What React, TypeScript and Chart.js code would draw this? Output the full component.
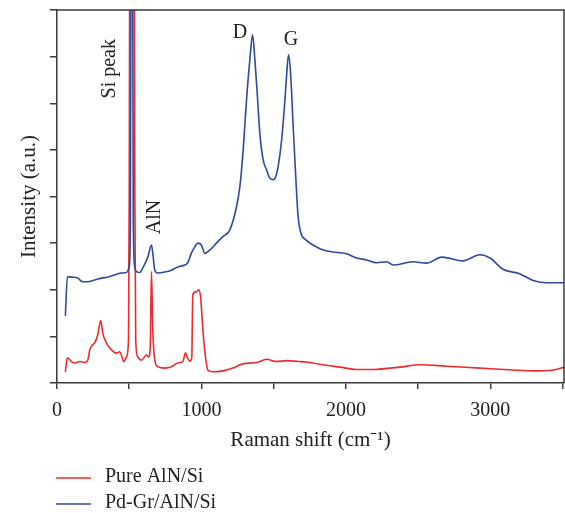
import React, { useEffect, useRef } from 'react';
import { Chart, registerables } from 'chart.js';

Chart.register(...registerables);

const FONT = '"Liberation Serif", "Times New Roman", serif';

const seriesLabels = ['Pure AlN/Si', 'Pd-Gr/AlN/Si'];
const seriesColors = ['#ee2a2d', '#2d4a9c'];

const redX = [58, 72, 100, 123, 157, 192, 213, 227, 247, 261, 282, 303, 317, 342, 377, 412, 434, 446, 462, 481, 495, 500, 507, 531, 539, 545, 559, 585, 619, 635, 646, 654, 663, 677, 698, 746, 793, 836, 871, 890, 903, 919, 933, 940, 966, 982, 994, 1010, 1028, 1044, 1079, 1148, 1217, 1286, 1383, 1451, 1520, 1589, 1682, 1772, 1841, 1959, 2074, 2187, 2305, 2374, 2513, 2698, 2928, 3157, 3296, 3435, 3510];
const redY = [0.24, 0.54, 0.46, 0.43, 0.46, 0.44, 0.49, 0.71, 0.82, 0.86, 1.03, 1.34, 1.07, 0.86, 0.71, 0.64, 0.67, 0.6, 0.46, 0.56, 0.92, 4, 14, 14, 4, 0.92, 0.56, 0.49, 0.6, 0.56, 0.82, 2.39, 1.14, 0.49, 0.35, 0.32, 0.35, 0.43, 0.46, 0.65, 0.54, 0.47, 0.54, 1.89, 1.96, 2.0, 1.85, 1.14, 0.56, 0.28, 0.24, 0.26, 0.32, 0.41, 0.44, 0.51, 0.46, 0.48, 0.46, 0.43, 0.39, 0.34, 0.29, 0.29, 0.32, 0.34, 0.39, 0.36, 0.32, 0.28, 0.26, 0.28, 0.34];

const blueX = [58, 72, 100, 143, 178, 213, 261, 308, 351, 400, 446, 481, 500, 508, 514, 518, 522, 528, 538, 550, 573, 594, 629, 654, 663, 677, 698, 746, 793, 836, 885, 906, 931, 954, 975, 1000, 1023, 1058, 1104, 1148, 1196, 1243, 1266, 1289, 1312, 1335, 1354, 1370, 1386, 1404, 1427, 1451, 1474, 1497, 1515, 1531, 1555, 1578, 1594, 1603, 1617, 1635, 1654, 1668, 1688, 1723, 1751, 1797, 1820, 1889, 2005, 2074, 2144, 2213, 2282, 2326, 2464, 2559, 2663, 2811, 2928, 2998, 3088, 3206, 3296, 3391, 3510];
const blueY = [1.44, 2.28, 2.27, 2.25, 2.17, 2.17, 2.21, 2.25, 2.27, 2.32, 2.36, 2.37, 2.49, 3.5, 12, 16, 12, 3.5, 2.49, 2.39, 2.37, 2.47, 2.7, 2.96, 2.79, 2.42, 2.36, 2.38, 2.42, 2.49, 2.53, 2.58, 2.79, 2.92, 3.0, 2.96, 2.78, 2.85, 3.0, 3.14, 3.28, 3.78, 4.21, 5.0, 6.07, 6.93, 7.47, 6.93, 6.22, 5.36, 4.79, 4.57, 4.39, 4.36, 4.43, 4.64, 5.21, 6.07, 6.79, 7.04, 6.65, 5.5, 4.36, 3.61, 3.22, 3.07, 3.0, 2.92, 2.88, 2.82, 2.77, 2.68, 2.64, 2.58, 2.6, 2.53, 2.6, 2.57, 2.7, 2.62, 2.75, 2.68, 2.44, 2.34, 2.2, 2.15, 2.15];

const xTickValues = [0, 500, 1000, 1500, 2000, 2500, 3000, 3500];
const xLabelTicks = [0, 1000, 2000, 3000];
const yTickValues = [0, 1, 2, 3, 4, 5, 6, 7, 8];

const peakLabels = ['Si peak', 'AlN', 'D', 'G'];
const peakX = [365, 677, 1266, 1620];
const peakY = [6.74, 3.56, 7.51, 7.36];
const peakRotated = [true, true, false, false];

const AXIS_COLOR = '#3a3a3a';

const framePlugin = {
  id: 'frame',
  afterDatasetsDraw(chart: any) {
    const { ctx, chartArea } = chart;
    ctx.save();
    ctx.strokeStyle = AXIS_COLOR;
    ctx.lineWidth = 1.5;
    ctx.beginPath();
    ctx.moveTo(chartArea.left, chartArea.top);
    ctx.lineTo(chartArea.right, chartArea.top);
    ctx.lineTo(chartArea.right, chartArea.bottom);
    ctx.stroke();
    ctx.restore();
  },
};

const peakLabelPlugin = {
  id: 'peakLabels',
  afterDatasetsDraw(chart: any) {
    const { ctx, scales } = chart;
    const xs = scales.x;
    const ys = scales.y;
    ctx.save();
    ctx.font = `20px ${FONT}`;
    ctx.fillStyle = '#222';
    ctx.textAlign = 'center';
    ctx.textBaseline = 'middle';
    peakLabels.forEach((t, i) => {
      const px = xs.getPixelForValue(peakX[i]);
      const py = ys.getPixelForValue(peakY[i]);
      ctx.save();
      ctx.translate(px, py);
      if (peakRotated[i]) ctx.rotate(-Math.PI / 2);
      ctx.fillText(t, 0, 0);
      ctx.restore();
    });
    ctx.restore();
  },
};

const bottomLegendPlugin = {
  id: 'bottomLegend',
  afterDraw(chart: any) {
    const { ctx, chartArea } = chart;
    const rows = [chartArea.bottom + 95, chartArea.bottom + 121];
    ctx.save();
    ctx.font = `20px ${FONT}`;
    ctx.textAlign = 'left';
    ctx.textBaseline = 'middle';
    chart.data.datasets.forEach((ds: any, i: number) => {
      const y = rows[i];
      ctx.strokeStyle = ds.borderColor;
      ctx.lineWidth = 1.5;
      ctx.beginPath();
      ctx.moveTo(chartArea.left - 1, y);
      ctx.lineTo(chartArea.left + 34, y);
      ctx.stroke();
      ctx.fillStyle = '#222';
      ctx.fillText(ds.label, chartArea.left + 48, y - 1);
    });
    ctx.restore();
  },
};

export default function App() {
  const canvasRef = useRef<HTMLCanvasElement | null>(null);

  useEffect(() => {
    if (!canvasRef.current) return;
    const toPoints = (xs: number[], ys: number[]) => xs.map((x, i) => ({ x, y: ys[i] }));
    const chart = new Chart(canvasRef.current, {
      type: 'line',
      data: {
        datasets: [
          {
            label: seriesLabels[0],
            data: toPoints(redX, redY),
            borderColor: seriesColors[0],
            backgroundColor: seriesColors[0],
            borderWidth: 1.6,
            pointRadius: 0,
            cubicInterpolationMode: 'monotone',
            order: 1,
          },
          {
            label: seriesLabels[1],
            data: toPoints(blueX, blueY),
            borderColor: seriesColors[1],
            backgroundColor: seriesColors[1],
            borderWidth: 1.6,
            pointRadius: 0,
            cubicInterpolationMode: 'monotone',
            order: 0,
          },
        ],
      },
      options: {
        animation: false,
        responsive: false,
        maintainAspectRatio: false,
        layout: { padding: { top: 10, right: 1, left: 0, bottom: 58 } },
        plugins: {
          legend: { display: false },
          tooltip: { enabled: false },
        },
        scales: {
          x: {
            type: 'linear',
            position: 'bottom',
            min: 0,
            max: 3510,
            afterBuildTicks: (s: any) => { s.ticks = xTickValues.map((v) => ({ value: v })); },
            afterFit: (s: any) => { s.height = 72; s.paddingLeft = 0; s.paddingRight = 0; },
            border: { display: true, color: AXIS_COLOR, width: 1.5 },
            grid: { drawOnChartArea: false, drawTicks: true, tickLength: 6, color: AXIS_COLOR, lineWidth: 1.5 },
            ticks: {
              maxRotation: 0,
              minRotation: 0,
              autoSkip: false,
              padding: 10,
              color: '#222',
              font: { family: FONT, size: 20 },
              callback: (v: any) => {
                const n = Math.round(Number(v));
                return xLabelTicks.indexOf(n) >= 0 ? String(n) : '';
              },
            },
            title: {
              display: true,
              text: 'Raman shift (cm\u207B\u00B9)',
              color: '#222',
              font: { family: FONT, size: 21 },
              padding: { top: 0, bottom: 2 },
            },
          },
          y: {
            type: 'linear',
            position: 'left',
            min: 0,
            max: 8,
            afterBuildTicks: (s: any) => { s.ticks = yTickValues.map((v) => ({ value: v })); },
            afterFit: (s: any) => { s.width = 57; s.paddingTop = 0; s.paddingBottom = 0; },
            border: { display: true, color: AXIS_COLOR, width: 1.5 },
            grid: { drawOnChartArea: false, drawTicks: true, tickLength: 7, color: AXIS_COLOR, lineWidth: 1.5 },
            ticks: { display: false },
            title: {
              display: true,
              text: 'Intensity (a.u.)',
              color: '#222',
              font: { family: FONT, size: 21 },
              padding: { top: 17, bottom: 0 },
            },
          },
        },
      } as any,
      plugins: [framePlugin, peakLabelPlugin, bottomLegendPlugin],
    });
    return () => chart.destroy();
  }, []);

  return (
    <div style={{ position: 'fixed', left: 0, top: 0, width: 565, height: 513, background: '#fff' }}>
      <canvas ref={canvasRef} width={565} height={513} style={{ width: 565, height: 513, display: 'block' }} />
    </div>
  );
}
